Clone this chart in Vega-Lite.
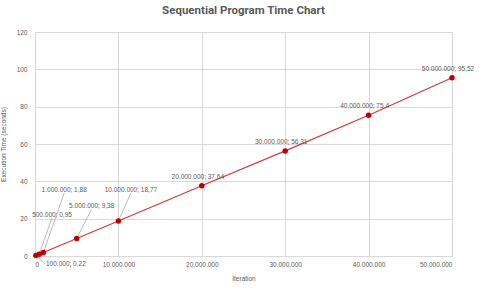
{
  "$schema": "https://vega.github.io/schema/vega-lite/v6.json",
  "width": 417,
  "height": 224,
  "autosize": {"type": "none"},
  "padding": {"left": 35, "top": 32, "right": 28, "bottom": 36},
  "background": "white",
  "title": {
    "text": "Sequential Program Time Chart",
    "font": "Roboto",
    "fontSize": 11.5,
    "fontWeight": "bold",
    "color": "#595959",
    "anchor": "middle",
    "offset": 13
  },
  "config": {
    "view": {"stroke": null},
    "axis": {
      "labelFont": "Liberation Sans",
      "titleFont": "Liberation Sans",
      "labelColor": "#595959",
      "titleColor": "#595959",
      "labelFontSize": 6.5,
      "titleFontSize": 6.5,
      "titleFontWeight": "normal",
      "gridColor": "#d9d9d9",
      "gridWidth": 1,
      "domain": false,
      "ticks": false
    }
  },
  "data": {
    "values": [
      {"iter": 100000, "time": 0.22, "label": "100.000; 0,22", "lx": 1200000, "ly": -4.3},
      {"iter": 500000, "time": 0.95, "label": "500.000; 0,95", "lx": 2040000, "ly": 20.4},
      {"iter": 1000000, "time": 1.88, "label": "1.000.000; 1,88", "lx": 3500000, "ly": 33.7},
      {"iter": 5000000, "time": 9.38, "label": "5.000.000; 9,38", "lx": 6800000, "ly": 25.2},
      {"iter": 10000000, "time": 18.77, "label": "10.000.000; 18,77", "lx": 11500000, "ly": 33.7},
      {"iter": 20000000, "time": 37.64, "label": "20.000.000; 37,64"},
      {"iter": 30000000, "time": 56.31, "label": "30.000.000; 56,31"},
      {"iter": 40000000, "time": 75.4, "label": "40.000.000; 75,4"},
      {"iter": 50000000, "time": 95.52, "label": "50.000.000; 95,52"}
    ]
  },
  "encoding": {
    "x": {
      "field": "iter",
      "type": "quantitative",
      "scale": {"domain": [0, 50000000], "nice": false},
      "axis": {
        "title": "Iteration",
        "values": [0, 10000000, 20000000, 30000000, 40000000, 50000000],
        "labelExpr": "replace(format(datum.value, ','), /,/g, '.')",
        "labelPadding": 5,
        "titlePadding": 8
      }
    },
    "y": {
      "field": "time",
      "type": "quantitative",
      "scale": {"domain": [0, 120], "nice": false},
      "axis": {
        "title": "Execution Time (seconds)",
        "values": [0, 20, 40, 60, 80, 100, 120],
        "labelPadding": 8,
        "titlePadding": 10
      }
    }
  },
  "layer": [
    {
      "mark": {"type": "line", "color": "#d03a3a", "strokeWidth": 1.2},
      "encoding": {}
    },
    {
      "transform": [{"filter": "isValid(datum.lx)"}],
      "mark": {"type": "rule", "color": "#a6a6a6", "strokeWidth": 0.8},
      "encoding": {
        "x2": {"field": "lx"},
        "y2": {"field": "ly"}
      }
    },
    {
      "mark": {"type": "point", "filled": true, "color": "#c00000", "size": 30, "opacity": 1},
      "encoding": {}
    },
    {
      "transform": [{"filter": "isValid(datum.lx) && datum.iter != 100000"}],
      "mark": {"type": "text", "font": "Liberation Sans", "fontSize": 6.5, "color": "#595959", "align": "center", "baseline": "bottom"},
      "encoding": {
        "x": {"field": "lx", "type": "quantitative"},
        "y": {"field": "ly", "type": "quantitative"},
        "text": {"field": "label"}
      }
    },
    {
      "transform": [{"filter": "datum.iter == 100000"}],
      "mark": {"type": "text", "font": "Liberation Sans", "fontSize": 6.5, "color": "#595959", "align": "left", "baseline": "middle", "dx": 1},
      "encoding": {
        "x": {"field": "lx", "type": "quantitative"},
        "y": {"field": "ly", "type": "quantitative"},
        "text": {"field": "label"}
      }
    },
    {
      "transform": [{"filter": "!isValid(datum.lx)"}],
      "mark": {"type": "text", "font": "Liberation Sans", "fontSize": 6.5, "color": "#595959", "align": "center", "baseline": "bottom", "dy": -6, "dx": -4},
      "encoding": {
        "text": {"field": "label"}
      }
    }
  ]
}
